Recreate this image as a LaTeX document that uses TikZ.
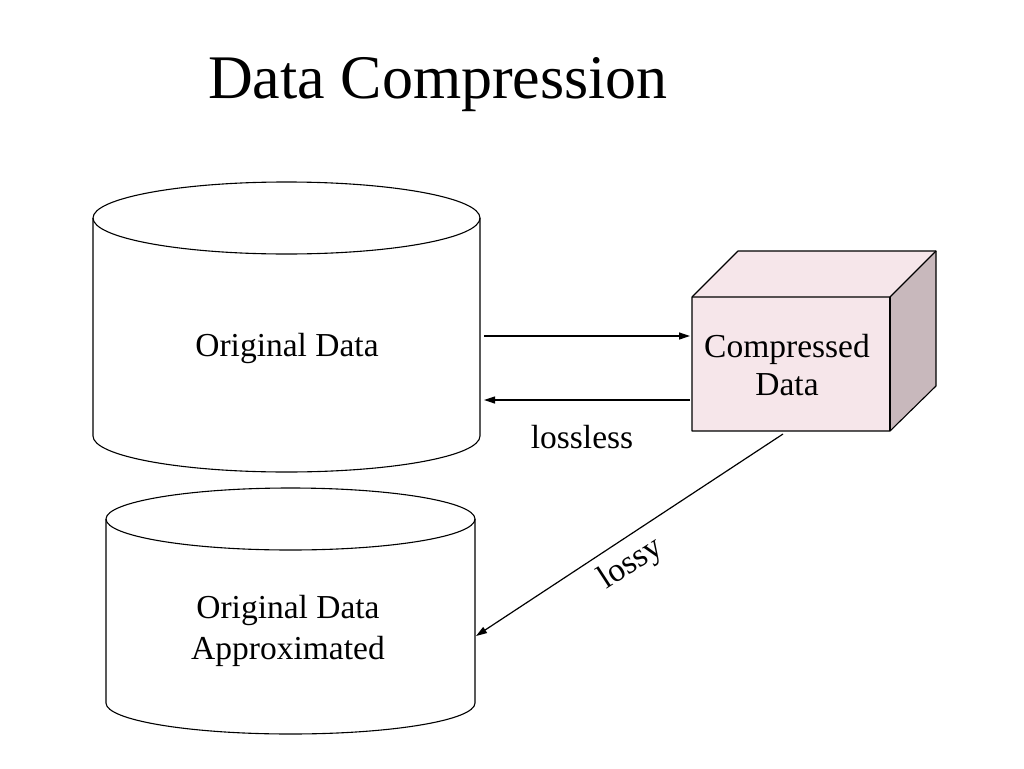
\documentclass[tikz,border=0pt]{standalone}
\usepackage{fontspec}
\setmainfont{Liberation Serif}
\usetikzlibrary{arrows.meta}
\definecolor{boxfront}{HTML}{F6E6EA}
\definecolor{boxside}{HTML}{C8B8BC}
\tikzset{
  cyl/.style={draw=black, line width=1.1pt},
  lbl/.style={font=\fontsize{33.5}{38}\selectfont, align=center, inner sep=0pt},
  conn/.style={draw=black, line width=1.2pt, -{Triangle[length=11pt,width=7pt]}},
  boxface/.style={draw=black, line width=1.1pt, line join=round}
}
\begin{document}
\begin{tikzpicture}[x=1pt,y=-1pt]
\useasboundingbox (0,0) rectangle (1024,768);
\fill[white] (0,0) rectangle (1024,768);
% title
\node[font=\fontsize{62}{70}\selectfont, inner sep=0pt] (title) at (438,85) {Data Compression};
% cylinder 1
\draw[cyl] (93,218) -- (93,436) arc[start angle=180, end angle=0, x radius=193.5, y radius=36] -- (480,218);
\draw[cyl] (286.5,218) ellipse [x radius=193.5, y radius=36];
\node[lbl] (orig) at (287,348) {Original Data};
% cylinder 2
\draw[cyl] (106,519) -- (106,703) arc[start angle=180, end angle=0, x radius=184.5, y radius=31] -- (475,519);
\draw[cyl] (290.5,519) ellipse [x radius=184.5, y radius=31];
\node[lbl] (approx) at (288,631) {Original Data\\[3pt]Approximated};
% box
\fill[boxfront] (692,297) -- (738,251) -- (936,251) -- (890,297) -- cycle;
\fill[boxside] (890,297) -- (936,251) -- (936,386) -- (890,431) -- cycle;
\fill[boxfront] (692,297) rectangle (890,431);
\draw[boxface] (692,297) -- (738,251) -- (936,251) -- (936,386) -- (890,431) -- (692,431) -- cycle;
\draw[boxface] (692,297) -- (890,297) -- (936,251);
\draw[boxface] (890,297) -- (890,431);
\node[lbl] (comp) at (787,365) {Compressed\\Data};
% connector end points
\coordinate (o1) at (484,336);
\coordinate (c1) at (690,336);
\coordinate (c2) at (690,400);
\coordinate (o2) at (484,400);
\coordinate (c3) at (783,434);
\coordinate (a3) at (476,636);
\draw[conn] (o1) -- (c1);
\draw[conn] (c2) -- (o2);
\node[lbl] (lossless) at (582,437) {lossless};
\draw[conn] (c3) -- (a3);
\node[lbl, rotate=33] (lossy) at (631,564) {lossy};
\end{tikzpicture}
\end{document}
